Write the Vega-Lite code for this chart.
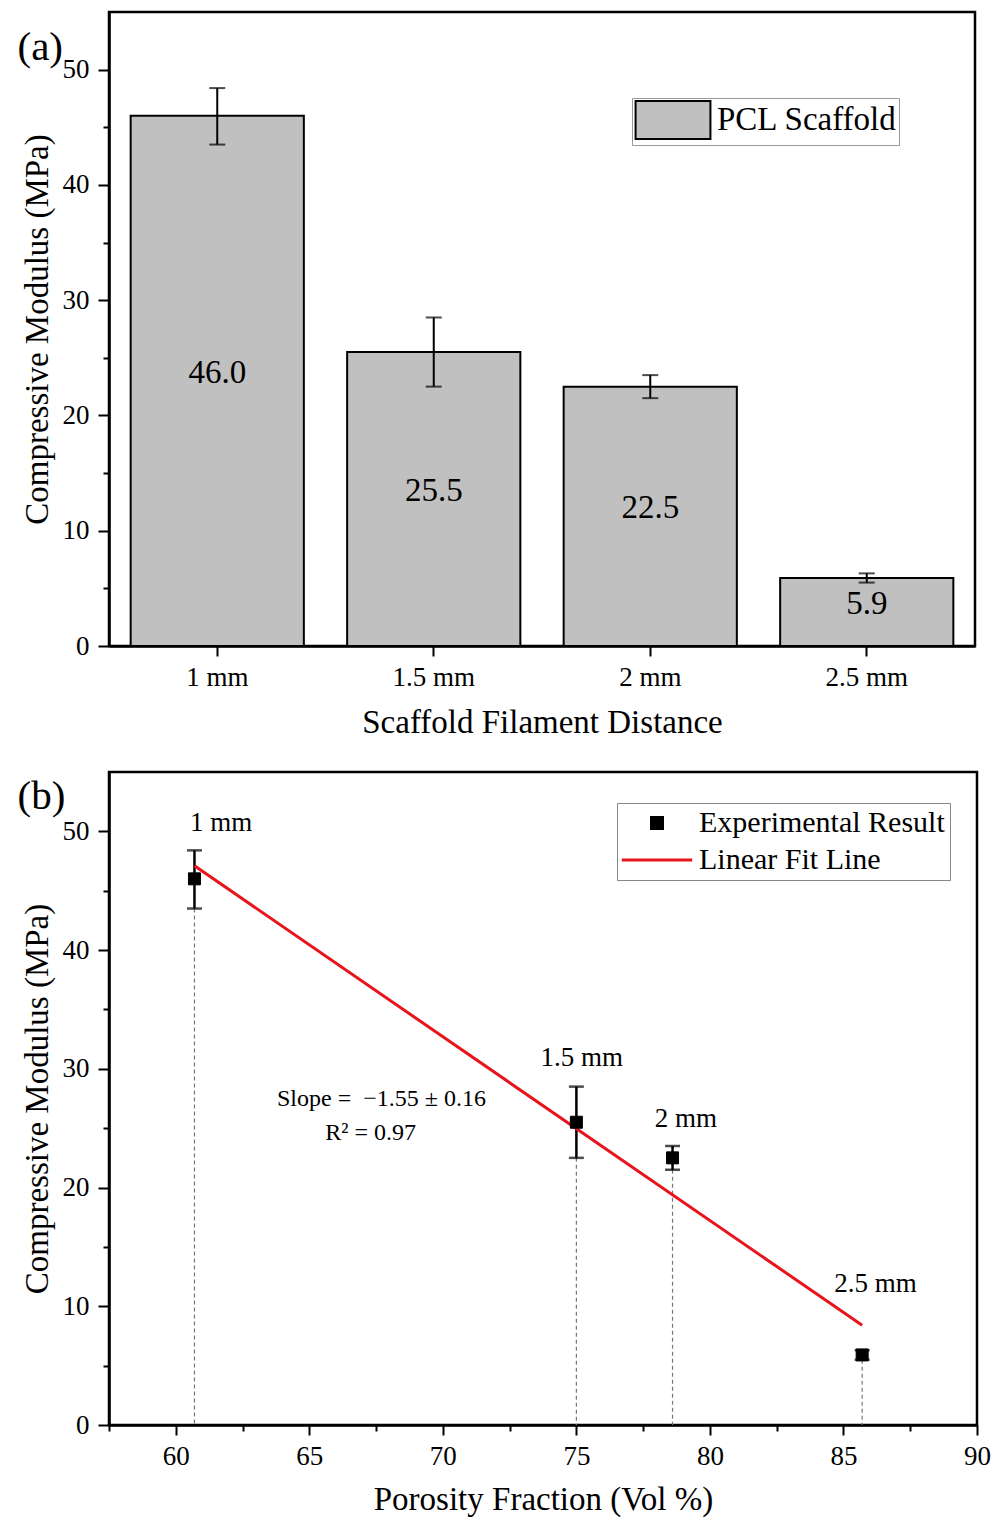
{
  "$schema": "https://vega.github.io/schema/vega-lite/v6.json",
  "background": "white",
  "padding": {"left": 15, "top": 10, "right": 24, "bottom": 0},
  "autosize": {"type": "pad"},
  "datasets": {
    "bars": [
      {"dist": "1 mm", "porosity": 60.7, "modulus": 46.0, "lo": 43.5, "hi": 48.4, "series": "PCL Scaffold", "pointSeries": "Experimental Result"},
      {"dist": "1.5 mm", "porosity": 75.0, "modulus": 25.5, "lo": 22.5, "hi": 28.5, "series": "PCL Scaffold", "pointSeries": "Experimental Result"},
      {"dist": "2 mm", "porosity": 78.6, "modulus": 22.5, "lo": 21.5, "hi": 23.5, "series": "PCL Scaffold", "pointSeries": "Experimental Result"},
      {"dist": "2.5 mm", "porosity": 85.7, "modulus": 5.9, "lo": 5.5, "hi": 6.3, "series": "PCL Scaffold", "pointSeries": "Experimental Result"}
    ],
    "fit": [
      {"porosity": 60.7, "modulus": 47.1},
      {"porosity": 85.7, "modulus": 8.4}
    ],
    "notes": [
      {"px": 61.7, "py": 50.0, "note": "1 mm"},
      {"px": 75.2, "py": 30.2, "note": "1.5 mm"},
      {"px": 79.1, "py": 25.1, "note": "2 mm"},
      {"px": 86.2, "py": 11.2, "note": "2.5 mm"}
    ],
    "stats": [
      {"px": 67.7, "py": 26.9, "note": "Slope = \u00a0−1.55 ± 0.16"},
      {"px": 67.3, "py": 24.0, "note": "R² = 0.97"}
    ]
  },
  "columns": 1,
  "spacing": 29,
  "resolve": {
    "scale": {"color": "independent", "shape": "independent", "fill": "independent", "stroke": "independent"},
    "legend": {"color": "independent", "shape": "independent", "fill": "independent", "stroke": "independent"}
  },
  "concat": [
    {
      "width": 866,
      "height": 634,
      "data": {"name": "bars"},
      "resolve": {"scale": {"y": "independent"}, "axis": {"y": "independent"}},
      "layer": [
        {
          "mark": {"type": "bar", "stroke": "black", "strokeWidth": 2},
          "encoding": {
            "x": {"field": "dist", "type": "nominal", "sort": null, "scale": {"paddingInner": 0.2, "paddingOuter": 0.1},
                  "axis": {"title": "Scaffold Filament Distance", "labelAngle": 0, "tickSize": 10, "labelPadding": 8, "titlePadding": 16}},
            "y": {"field": "modulus", "type": "quantitative", "scale": {"domain": [0, 55], "nice": false},
                  "axis": {"values": [0, 10, 20, 30, 40, 50], "tickSize": 11, "labelPadding": 9, "title": "Compressive Modulus (MPa)", "titlePadding": 8}},
            "color": {"field": "series", "type": "nominal", "scale": {"range": ["#c0c0c0"]},
                      "legend": {"title": null, "orient": "none", "legendX": 523, "legendY": 86, "strokeColor": "#999999", "fillColor": "white", "padding": 2,
                                 "symbolType": "M-1.97,-1H1.97V1H-1.97Z", "symbolSize": 1444, "symbolStrokeColor": "black", "symbolStrokeWidth": 2,
                                 "symbolOffset": 19, "labelOffset": 24, "labelFontSize": 33, "labelLimit": 500, "labelFont": "Liberation Serif", "labelColor": "black"}}
          }
        },
        {
          "mark": {"type": "rule", "color": "black", "strokeWidth": 2},
          "encoding": {
            "x": {"field": "dist", "type": "nominal", "sort": null},
            "y": {"field": "lo", "type": "quantitative", "scale": {"domain": [0, 55], "nice": false},
                  "axis": {"orient": "left", "values": [5, 15, 25, 35, 45], "tickSize": 6, "labels": false, "domain": false,
                           "title": "(a)", "titleAngle": 0, "titleAlign": "left", "titleBaseline": "alphabetic", "titleX": -92, "titleY": 47, "titleFontSize": 41}},
            "y2": {"field": "hi"}
          }
        },
        {
          "mark": {"type": "tick", "orient": "horizontal", "color": "black", "size": 16, "thickness": 2},
          "encoding": {
            "x": {"field": "dist", "type": "nominal", "sort": null},
            "y": {"field": "lo", "type": "quantitative", "scale": {"domain": [0, 55], "nice": false}, "axis": null}
          }
        },
        {
          "mark": {"type": "tick", "orient": "horizontal", "color": "black", "size": 16, "thickness": 2},
          "encoding": {
            "x": {"field": "dist", "type": "nominal", "sort": null},
            "y": {"field": "hi", "type": "quantitative", "scale": {"domain": [0, 55], "nice": false}, "axis": null}
          }
        },
        {
          "mark": {"type": "text", "fontSize": 33, "baseline": "middle", "dy": -8, "color": "black", "font": "Liberation Serif"},
          "encoding": {
            "x": {"field": "dist", "type": "nominal", "sort": null},
            "y": {"field": "modulus", "type": "quantitative", "scale": {"domain": [0, 110], "nice": false}, "axis": null},
            "text": {"field": "modulus", "type": "quantitative", "format": ".1f"}
          }
        }
      ]
    },
    {
      "width": 868,
      "height": 653,
      "resolve": {"axis": {"x": "independent", "y": "independent"}},
      "layer": [
        {
          "data": {"name": "bars"},
          "mark": {"type": "rule", "color": "#777777", "strokeWidth": 1.2, "strokeDash": [4, 3]},
          "encoding": {
            "x": {"field": "porosity", "type": "quantitative", "scale": {"domain": [57.5, 90], "nice": false, "zero": false},
                  "axis": {"orient": "bottom", "values": [60, 65, 70, 75, 80, 85, 90], "tickSize": 10, "labelPadding": 8, "title": "Porosity Fraction (Vol %)", "titlePadding": 14}},
            "y": {"field": "lo", "type": "quantitative", "scale": {"domain": [0, 55], "nice": false},
                  "axis": {"orient": "left", "values": [0, 10, 20, 30, 40, 50], "tickSize": 11, "labelPadding": 9, "title": "Compressive Modulus (MPa)", "titlePadding": 8}},
            "y2": {"datum": 0}
          }
        },
        {
          "data": {"name": "bars"},
          "mark": {"type": "rule", "color": "black", "strokeWidth": 2.5},
          "encoding": {
            "x": {"field": "porosity", "type": "quantitative", "scale": {"domain": [57.5, 90], "nice": false, "zero": false},
                  "axis": {"orient": "bottom", "values": [57.5, 62.5, 67.5, 72.5, 77.5, 82.5, 87.5], "tickSize": 6, "labels": false, "domain": false, "title": null}},
            "y": {"field": "lo", "type": "quantitative", "scale": {"domain": [0, 55], "nice": false},
                  "axis": {"orient": "left", "values": [5, 15, 25, 35, 45], "tickSize": 6, "labels": false, "domain": false,
                           "title": "(b)", "titleAngle": 0, "titleAlign": "left", "titleBaseline": "alphabetic", "titleX": -92, "titleY": 36, "titleFontSize": 41}},
            "y2": {"field": "hi"}
          }
        },
        {
          "data": {"name": "bars"},
          "mark": {"type": "tick", "orient": "horizontal", "color": "black", "size": 15, "thickness": 2.5},
          "encoding": {
            "x": {"field": "porosity", "type": "quantitative", "axis": null},
            "y": {"field": "lo", "type": "quantitative", "axis": null}
          }
        },
        {
          "data": {"name": "bars"},
          "mark": {"type": "tick", "orient": "horizontal", "color": "black", "size": 15, "thickness": 2.5},
          "encoding": {
            "x": {"field": "porosity", "type": "quantitative", "axis": null},
            "y": {"field": "hi", "type": "quantitative", "axis": null}
          }
        },
        {
          "data": {"name": "fit"},
          "mark": {"type": "line", "color": "#e8141b", "strokeWidth": 3},
          "encoding": {
            "x": {"field": "porosity", "type": "quantitative", "axis": null},
            "y": {"field": "modulus", "type": "quantitative", "axis": null}
          }
        },
        {
          "data": {"name": "bars"},
          "mark": {"type": "point", "size": 144, "strokeWidth": 1, "opacity": 1},
          "encoding": {
            "x": {"field": "porosity", "type": "quantitative", "axis": null},
            "y": {"field": "modulus", "type": "quantitative", "axis": null},
            "shape": {"field": "pointSeries", "type": "nominal",
                      "scale": {"domain": ["Experimental Result", "Linear Fit Line"], "range": ["square", "M-6.4,0H6.4"]},
                      "legend": {"title": null, "orient": "none", "legendX": 508, "legendY": 31, "strokeColor": "#888888", "fillColor": "white", "padding": 5,
                                 "symbolSize": 121, "symbolStrokeWidth": 3, "symbolOffset": 20, "labelOffset": 27, "rowPadding": 7,
                                 "labelFontSize": 30, "labelLimit": 500, "labelFont": "Liberation Serif", "labelColor": "black"}},
            "fill": {"field": "pointSeries", "type": "nominal",
                     "scale": {"domain": ["Experimental Result", "Linear Fit Line"], "range": ["black", "#e8141b"]}},
            "stroke": {"field": "pointSeries", "type": "nominal",
                       "scale": {"domain": ["Experimental Result", "Linear Fit Line"], "range": ["black", "#e8141b"]}}
          }
        },
        {
          "data": {"name": "notes"},
          "mark": {"type": "text", "fontSize": 27, "baseline": "alphabetic", "align": "center", "color": "black", "font": "Liberation Serif"},
          "encoding": {
            "x": {"field": "px", "type": "quantitative", "axis": null},
            "y": {"field": "py", "type": "quantitative", "axis": null},
            "text": {"field": "note", "type": "nominal"}
          }
        },
        {
          "data": {"name": "stats"},
          "mark": {"type": "text", "fontSize": 24, "baseline": "alphabetic", "align": "center", "color": "black", "font": "Liberation Serif"},
          "encoding": {
            "x": {"field": "px", "type": "quantitative", "axis": null},
            "y": {"field": "py", "type": "quantitative", "axis": null},
            "text": {"field": "note", "type": "nominal"}
          }
        }
      ]
    }
  ],
  "config": {
    "font": "Liberation Serif",
    "view": {"stroke": "black", "strokeWidth": 2.5},
    "axis": {"domainColor": "black", "domainWidth": 2.5, "tickColor": "black", "tickWidth": 2, "labelFont": "Liberation Serif", "labelFontSize": 27, "labelColor": "black",
             "titleFont": "Liberation Serif", "titleFontSize": 33, "titleFontWeight": "normal", "titleColor": "black", "grid": false, "labelFlush": false, "labelOverlap": false},
    "legend": {"labelFont": "Liberation Serif", "labelColor": "black"}
  }
}
